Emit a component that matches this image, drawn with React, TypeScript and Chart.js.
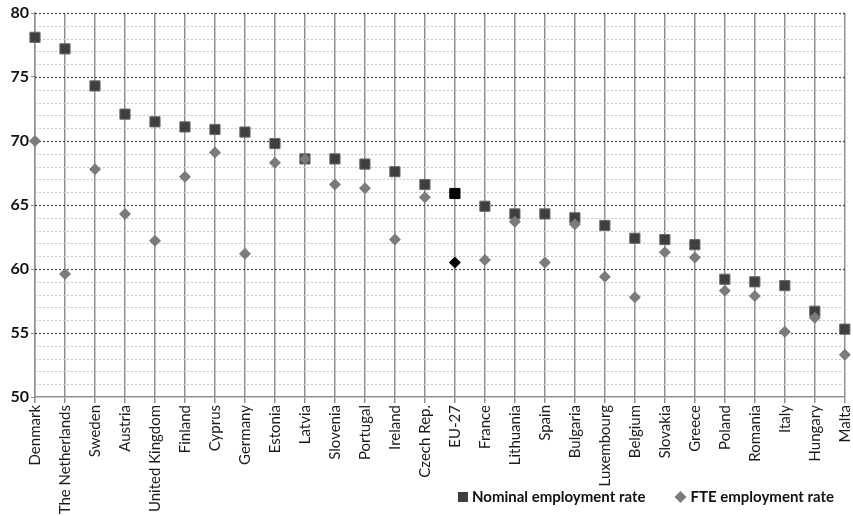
import React, { useEffect, useRef } from 'react';
import { Chart, registerables } from 'chart.js';

Chart.register(...registerables);

const countries = [
  'Denmark', 'The Netherlands', 'Sweden', 'Austria', 'United Kingdom', 'Finland', 'Cyprus',
  'Germany', 'Estonia', 'Latvia', 'Slovenia', 'Portugal', 'Ireland', 'Czech Rep.', 'EU-27',
  'France', 'Lithuania', 'Spain', 'Bulgaria', 'Luxembourg', 'Belgium', 'Slovakia', 'Greece',
  'Poland', 'Romania', 'Italy', 'Hungary', 'Malta',
];

const nominalRate = [
  78.1, 77.2, 74.3, 72.1, 71.5, 71.1, 70.9, 70.7, 69.8, 68.6, 68.6, 68.2, 67.6, 66.6, 65.9,
  64.9, 64.3, 64.3, 64.0, 63.4, 62.4, 62.3, 61.9, 59.2, 59.0, 58.7, 56.7, 55.3,
];

const fteRate = [
  70.0, 59.6, 67.8, 64.3, 62.2, 67.2, 69.1, 61.2, 68.3, 68.6, 66.6, 66.3, 62.3, 65.6, 60.5,
  60.7, 63.7, 60.5, 63.5, 59.4, 57.8, 61.3, 60.9, 58.3, 57.9, 55.1, 56.2, 53.3,
];

const seriesNames = ['Nominal employment rate', 'FTE employment rate'];
const highlightCategory = 'EU-27';
const yMin = 50;
const yMax = 80;
const yMajorStep = 5;
const yMinorStep = 1;

const FONT = 'Lato, "Liberation Sans", sans-serif';
const NOMINAL_COLOR = '#3f3f3f';
const FTE_COLOR = '#7b7b7b';

const minorGridPlugin = {
  id: 'minorGrid',
  beforeDatasetsDraw(chart: any) {
    const { ctx, chartArea, scales } = chart;
    const y = scales.y;
    ctx.save();
    for (let v = yMin + yMinorStep; v <= yMax; v += yMinorStep) {
      const py = Math.round(y.getPixelForValue(v)) + 0.5;
      const major = v % yMajorStep === 0;
      ctx.beginPath();
      ctx.setLineDash([2, 2]);
      ctx.strokeStyle = major ? '#4a4a4a' : '#c4c4c4';
      ctx.lineWidth = major ? 1.3 : 1;
      ctx.moveTo(chartArea.left, py);
      ctx.lineTo(chartArea.right, py);
      ctx.stroke();
    }
    ctx.restore();
  },
};

const legendPlugin = {
  id: 'customLegend',
  afterDraw(chart: any) {
    const { ctx } = chart;
    ctx.save();
    ctx.font = `bold 15px ${FONT}`;
    ctx.textBaseline = 'middle';
    const cy = 497;
    const rightEnd = chart.width - 20;
    const w1 = ctx.measureText(seriesNames[0]).width;
    const w2 = ctx.measureText(seriesNames[1]).width;
    const gap = 30;
    const mark = 14;
    const total = mark + w1 + gap + mark + w2;
    let x = rightEnd - total;
    ctx.fillStyle = NOMINAL_COLOR;
    ctx.fillRect(x, cy - 5, 10, 10);
    x += mark;
    ctx.fillStyle = '#111';
    ctx.fillText(seriesNames[0], x, cy);
    x += w1 + gap;
    ctx.fillStyle = FTE_COLOR;
    ctx.beginPath();
    ctx.moveTo(x + 5, cy - 6);
    ctx.lineTo(x + 11, cy);
    ctx.lineTo(x + 5, cy + 6);
    ctx.lineTo(x - 1, cy);
    ctx.closePath();
    ctx.fill();
    x += mark + 1;
    ctx.fillStyle = '#111';
    ctx.fillText(seriesNames[1], x, cy);
    ctx.restore();
  },
};

export default function App() {
  const canvasRef = useRef<HTMLCanvasElement | null>(null);

  useEffect(() => {
    if (!canvasRef.current) return;
    const nominalColors = countries.map((c) => (c === highlightCategory ? '#000000' : NOMINAL_COLOR));
    const fteColors = countries.map((c) => (c === highlightCategory ? '#000000' : FTE_COLOR));
    const chart = new Chart(canvasRef.current, {
      type: 'line',
      data: {
        labels: countries,
        datasets: [
          {
            label: seriesNames[1],
            data: fteRate,
            showLine: false,
            pointStyle: 'rectRot',
            pointRadius: 6,
            pointBackgroundColor: fteColors,
            pointBorderColor: fteColors,
            pointBorderWidth: 0,
          },
          {
            label: seriesNames[0],
            data: nominalRate,
            showLine: false,
            pointStyle: 'rect',
            pointRadius: 7.2,
            pointBackgroundColor: nominalColors,
            pointBorderColor: countries.map((c) => (c === highlightCategory ? '#000' : '#6a6a6a')),
            pointBorderWidth: 1,
          },
        ],
      },
      options: {
        animation: false,
        responsive: true,
        maintainAspectRatio: false,
        layout: { padding: { top: 13, right: 4, left: 0, bottom: 0 } },
        plugins: {
          legend: { display: false },
          tooltip: { enabled: false },
        },
        scales: {
          x: {
            type: 'category',
            offset: false,
            grid: {
              color: '#8f8f8f',
              lineWidth: 1.5,
              tickLength: 6,
              drawTicks: true,
            },
            border: { color: '#8f8f8f', width: 1.5 },
            ticks: {
              autoSkip: false,
              minRotation: 90,
              maxRotation: 90,
              padding: 2,
              color: '#1a1a1a',
              font: { family: FONT, size: 15 },
            },
            afterFit: (s: any) => {
              s.height = 119;
              s.paddingLeft = 0;
              s.paddingRight = 0;
            },
          },
          y: {
            min: yMin,
            max: yMax,
            grid: {
              drawOnChartArea: false,
              drawTicks: true,
              tickLength: 4,
              color: '#8f8f8f',
            },
            border: { color: '#8f8f8f', width: 1.5 },
            ticks: {
              stepSize: yMajorStep,
              padding: 2,
              color: '#111',
              font: { family: FONT, size: 16, weight: 'bold' },
            },
            afterFit: (s: any) => {
              s.width = 35;
            },
          },
        },
      },
      plugins: [minorGridPlugin, legendPlugin],
    } as any);
    return () => chart.destroy();
  }, []);

  return (
    <div style={{ position: 'absolute', left: 0, top: 0, width: 853, height: 516, background: '#fff' }}>
      <canvas ref={canvasRef} />
    </div>
  );
}
